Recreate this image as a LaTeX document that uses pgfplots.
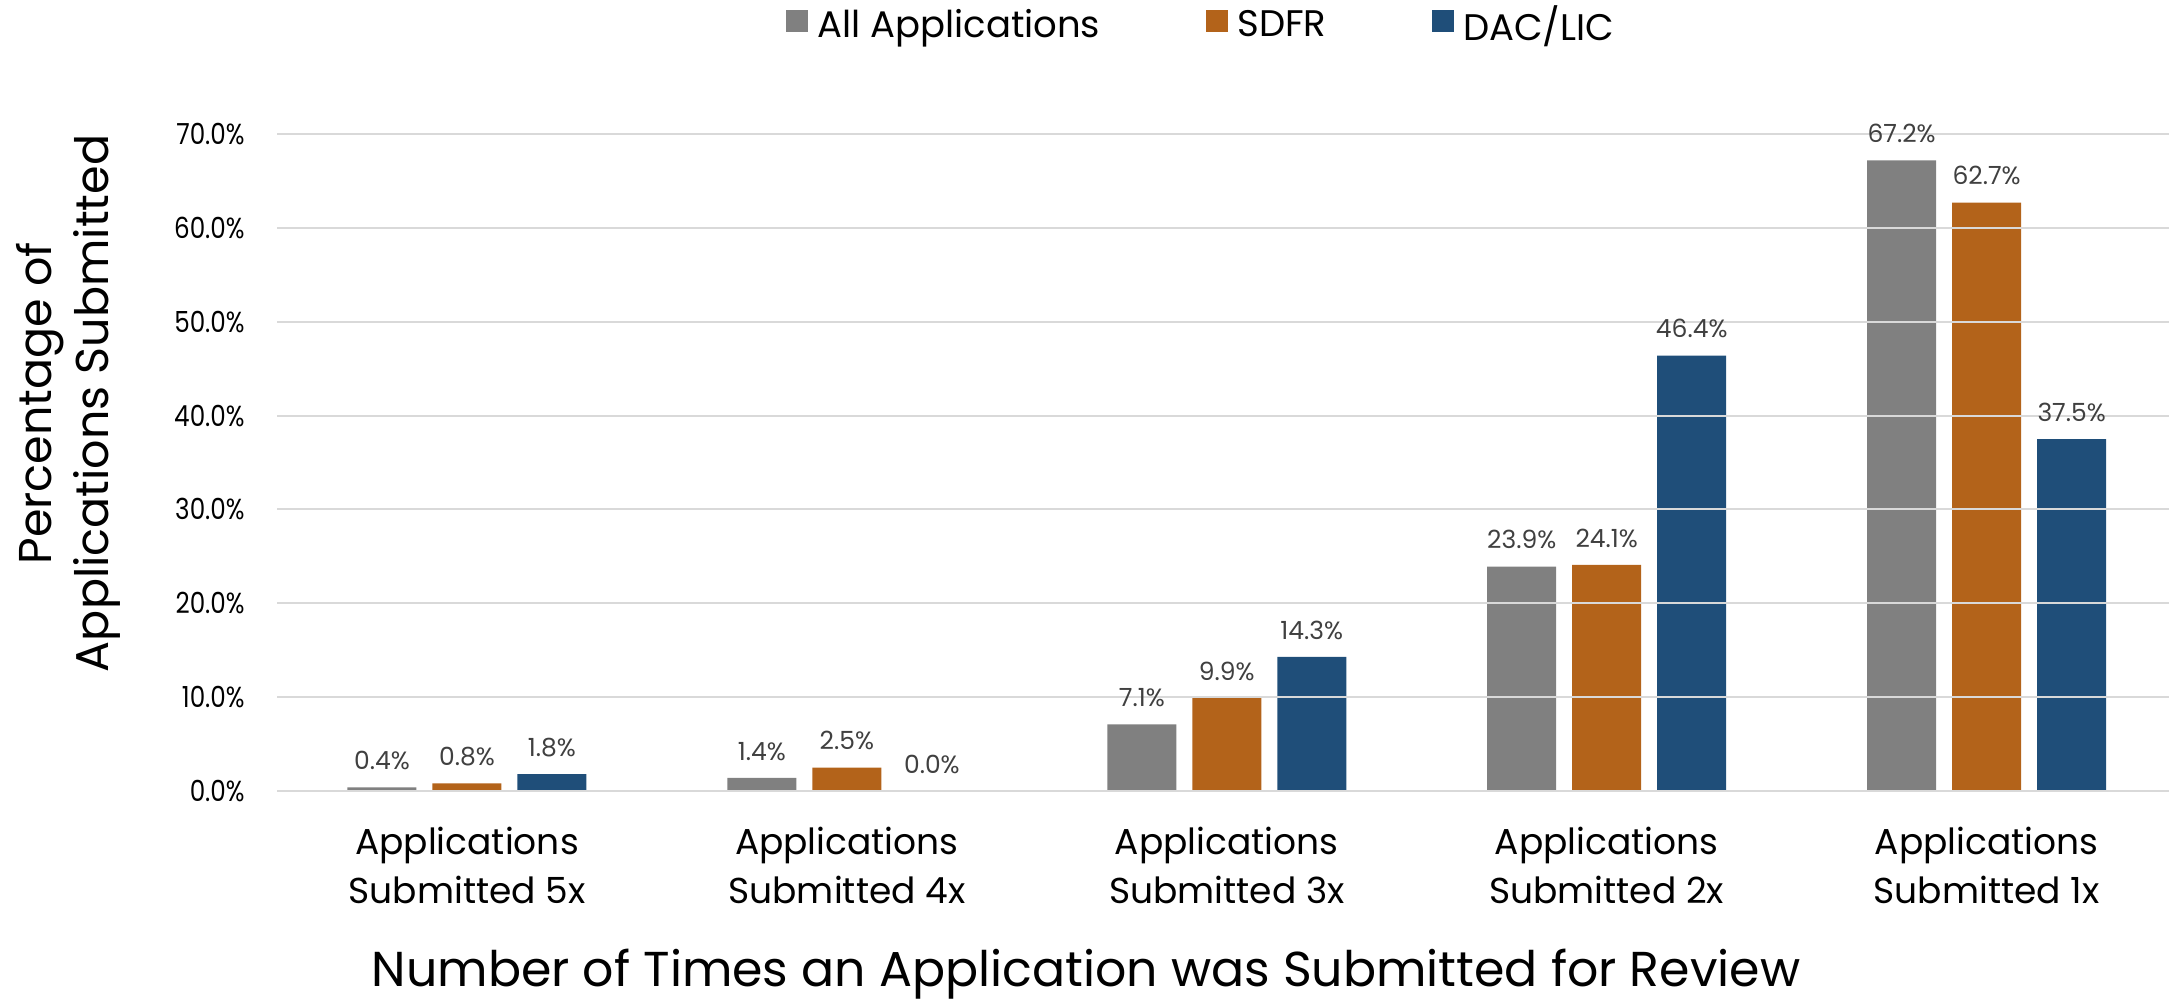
\documentclass[border=0pt]{standalone}
\usepackage{fontspec}
\setmainfont{Poppins}
\newfontfamily\tickfont[FakeStretch=0.85]{Poppins}
\usepackage{pgfplots}
\pgfplotsset{compat=1.18}
\definecolor{cgray}{HTML}{808080}
\definecolor{corange}{HTML}{B3631A}
\definecolor{cblue}{HTML}{1F4E79}
\definecolor{cgrid}{HTML}{D9D9D9}
\definecolor{clabel}{HTML}{404040}
\begin{document}
\begin{tikzpicture}
\useasboundingbox (0,0) rectangle (1084.5pt,501.5pt);
\begin{axis}[
  at={(138.5pt,106pt)}, anchor=south west,
  width=946pt, height=328.5pt, scale only axis,
  ybar, bar width=34.5pt,
  ymin=0, ymax=70, xmin=-0.5, xmax=4.48,
  xtick={0,1,2,3,4},
  xticklabels={{Applications\\Submitted 5x},{Applications\\Submitted 4x},{Applications\\Submitted 3x},{Applications\\Submitted 2x},{Applications\\Submitted 1x}},
  ytick={0,10,20,30,40,50,60,70},
  yticklabel={\pgfmathprintnumber[fixed,fixed zerofill,precision=1]{\tick}\%},
  /pgf/number format/assume math mode=true,
  axis on top,
  ymajorgrids, grid style={cgrid, line width=1pt},
  axis line style={draw=none},
  major tick length=0pt,
  xticklabel style={font=\fontsize{18}{24.5}\selectfont, align=center, anchor=north, inner sep=0pt, yshift=-18pt, text=black},
  yticklabel style={font=\tickfont\fontsize{14.5}{18}\selectfont, anchor=east, inner sep=0pt, xshift=-16pt, text=black},
  xlabel={Number of Times an Application was Submitted for Review},
  xlabel style={at={(axis description cs:0.4276,-0.2983)}, anchor=base, font=\fontsize{24.5}{28}\selectfont},
  ylabel={Percentage of\\Applications Submitted},
  ylabel style={at={(axis description cs:-0.110,0.59)}, anchor=center, align=center, font=\fontsize{23}{28.5}\selectfont},
  nodes near coords={\pgfmathprintnumber[fixed,fixed zerofill,precision=1]{\pgfplotspointmeta}\%},
  every node near coord/.append style={font=\fontsize{12.5}{14}\selectfont, text=clabel, anchor=south, inner sep=0pt, yshift=8.5pt},
  legend columns=3,
  legend image code/.code={\fill[#1] (0pt,-3.5pt) rectangle (11pt,7.5pt);},
  legend style={at={(0.488,1.166)}, anchor=center, draw=none, fill=none,
    font=\fontsize{18.5}{22}\selectfont,
    nodes={inner sep=0pt},
    /tikz/every odd column/.append style={column sep=4.5pt},
    /tikz/every even column/.append style={column sep=53pt}},
]
\addplot[fill=cgray, draw=none, bar shift=-42.5pt] coordinates {(0,0.4) (1,1.4) (2,7.1) (3,23.9) (4,67.2)};
\addplot[fill=corange, draw=none, bar shift=0pt] coordinates {(0,0.8) (1,2.5) (2,9.9) (3,24.1) (4,62.7)};
\addplot[fill=cblue, draw=none, bar shift=42.5pt] coordinates {(0,1.8) (1,0.0) (2,14.3) (3,46.4) (4,37.5)};
\legend{All Applications, SDFR, DAC/LIC}
\end{axis}
\end{tikzpicture}
\end{document}
